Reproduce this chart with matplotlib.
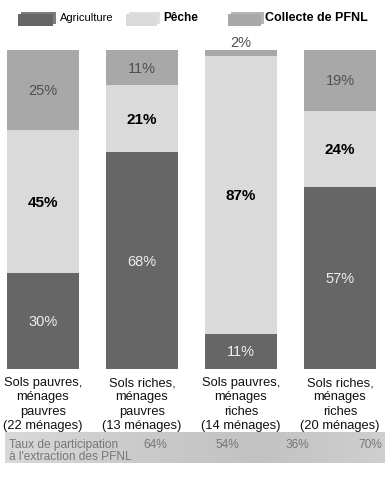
import matplotlib
matplotlib.use("Agg")
import matplotlib.pyplot as plt
from matplotlib.patches import Rectangle
from matplotlib.colors import LinearSegmentedColormap
import numpy as np

plt.rcParams['font.family'] = ['Liberation Sans', 'DejaVu Sans']

# data
categories = ["Sols pauvres,\nménages\npauvres\n(22 ménages)",
              "Sols riches,\nménages\npauvres\n(13 ménages)",
              "Sols pauvres,\nménages\nriches\n(14 ménages)",
              "Sols riches,\nménages\nriches\n(20 ménages)"]
agriculture = [30, 68, 11, 57]
peche = [45, 21, 87, 24]
collecte = [25, 11, 2, 19]
participation = ["64%", "54%", "36%", "70%"]
series_names = ["Agriculture", "Pêche", "Collecte de PFNL"]

c_agri = "#666666"
c_peche = "#dadada"
c_coll = "#a8a8a8"

W, H = 388, 481
fig = plt.figure(figsize=(W / 100, H / 100), dpi=100)
fig.patch.set_facecolor("white")

# axes placed in pixel terms
bot_px, top_px = 370, 51
ax = fig.add_axes([0, (H - bot_px) / H, 1, (bot_px - top_px) / H])
x = np.arange(len(categories))
ax.set_xlim(-43 / 99, (W - 43) / 99)
ax.set_ylim(0, 100)
ax.axis("off")

width = 0.727
agri = np.array(agriculture)
pe = np.array(peche)
co = np.array(collecte)
ax.bar(x, agri, width, color=c_agri)
ax.bar(x, pe, width, bottom=agri, color=c_peche)
ax.bar(x, co, width, bottom=agri + pe, color=c_coll)

for i in range(len(x)):
    # agriculture labels
    ax.text(x[i], agri[i] / 2, "%d%%" % agri[i], ha="center", va="center",
            color="#eeeeee", fontsize=10.5)
    # peche labels
    ax.text(x[i], agri[i] + pe[i] / 2, "%d%%" % pe[i], ha="center", va="center",
            color="black", fontsize=11, fontweight="bold")
    # collecte labels
    if co[i] >= 5:
        ax.text(x[i], agri[i] + pe[i] + co[i] / 2, "%d%%" % co[i], ha="center",
                va="center", color="#505050", fontsize=10.5)
    else:
        ax.annotate("%d%%" % co[i], (x[i], 100), xytext=(0, 1), textcoords="offset points",
                    ha="center", va="bottom", color="#505050", fontsize=10.5)

# category labels
for i in range(len(x)):
    ax.text(x[i], -2.2, categories[i], ha="center", va="top", fontsize=9.3,
            color="#111111", linespacing=1.25, clip_on=False)

# legend, drawn by hand with little stepped swatches
leg_x = [18, 126, 228]
leg_w = [35, 31, 33]
leg_txt_x = [60, 163, 265]
leg_cols = [c_agri, c_peche, c_coll]
leg_weights = ["normal", "bold", "bold"]
leg_sizes = [8, 8.5, 9]
for i in range(3):
    x0 = leg_x[i] / W
    y0 = 1 - 27 / H
    back = Rectangle((x0 + 3 / W, y0 + 2 / H), leg_w[i] / W, 12 / H, transform=fig.transFigure,
                     facecolor=leg_cols[i], edgecolor="none", alpha=0.85)
    fig.patches.append(back)
    front = Rectangle((x0, y0), leg_w[i] / W, 12 / H, transform=fig.transFigure,
                      facecolor=leg_cols[i], edgecolor="none")
    fig.patches.append(front)
    fig.text(leg_txt_x[i] / W, 1 - 18 / H, series_names[i], ha="left", va="center",
             fontsize=leg_sizes[i], fontweight=leg_weights[i], color="black")

# participation band at the bottom (soft grey gradient)
band_ax = fig.add_axes([5 / W, 1 - 464 / H, 380 / W, 31 / H])
band_ax.axis("off")
cmap = LinearSegmentedColormap.from_list("band", ["#d9d9d9", "#cbcbcb", "#c2c2c2", "#cfcfcf"])
band_ax.imshow(np.linspace(0, 1, 256).reshape(1, -1), aspect="auto", cmap=cmap,
               extent=[0, 1, 0, 1])
band_ax.set_xlim(0, 1)
band_ax.set_ylim(0, 1)

fig.text(9 / W, 1 - 451 / H, "Taux de participation\nà l'extraction des PFNL",
         ha="left", va="center", fontsize=8.6, color="#777777", linespacing=1.0)
part_x = [155, 227, 297, 370]
for i in range(len(participation)):
    fig.text(part_x[i] / W, 1 - 445 / H, participation[i], ha="center", va="center",
             fontsize=8.6, color="#777777")

fig.savefig("out.png", dpi=100)
